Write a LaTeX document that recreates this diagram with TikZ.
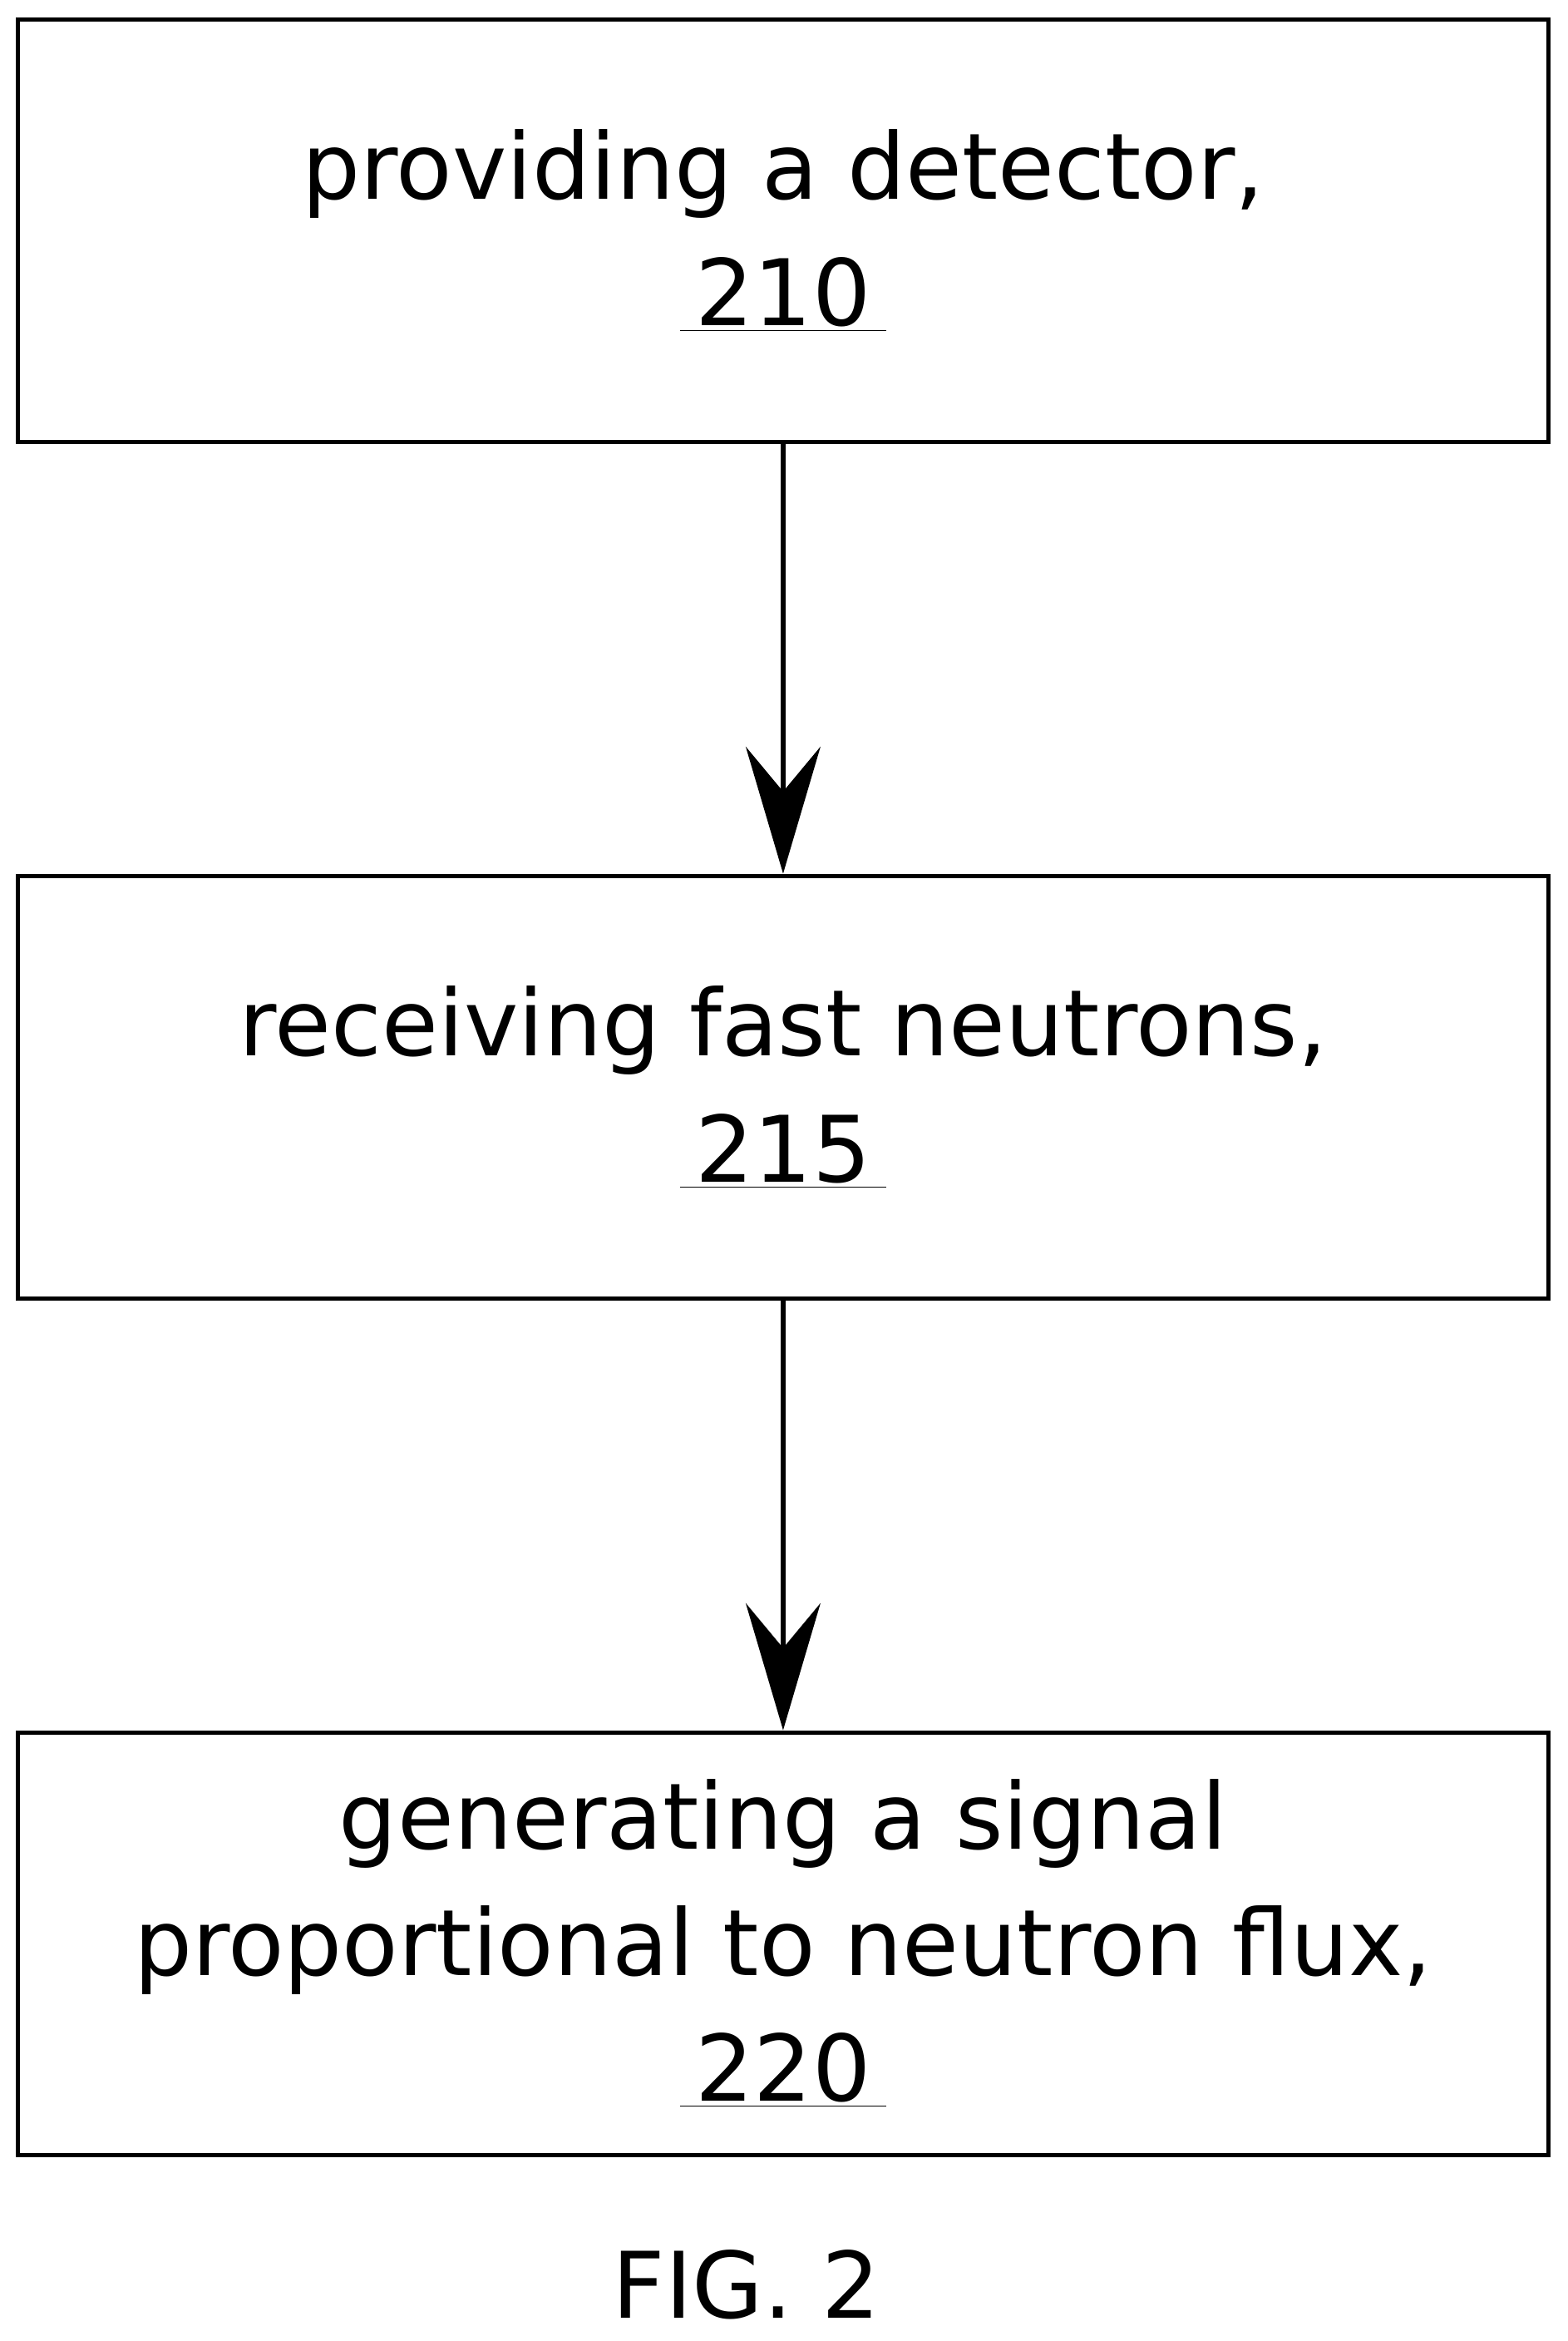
\documentclass[tikz,border=0pt]{standalone}
\usepackage{fontspec}
\setmainfont{DejaVu Sans}
\usetikzlibrary{arrows.meta,positioning}
\newcommand{\refnum}[1]{\underline{\kern6pt #1\kern6pt}}

\begin{document}
\begin{tikzpicture}[
        stepbox/.style={draw, line width=1.7pt, minimum width=20.5cm, minimum height=5.66cm,
            align=center, font=\fontsize{35}{48}\selectfont, inner sep=0pt},
        flow/.style={line width=1.7pt, -{Stealth[length=1.7cm,width=1cm,inset=0.6cm]}}
    ]
        \useasboundingbox (0,0) rectangle (21,-31.35);
        
        % Steps
        \node[stepbox] (detector) at (10.49,-3.09) {providing a detector,\\ \refnum{210}};
        \node[stepbox] (neutrons) at (10.49,-14.56) {receiving fast neutrons,\\ \refnum{215}};
        \node[stepbox] (signal) at (10.49,-26.03) {generating a signal\\ proportional to neutron flux,\\ \refnum{220}};
        
        % Connectors
        \draw[flow] (detector) -- (neutrons);
        \draw[flow] (neutrons) -- (signal);
        
        \node[font=\fontsize{35}{42}\selectfont] (caption) at (10,-30.6) {FIG. 2};
    \end{tikzpicture}
\end{document}
